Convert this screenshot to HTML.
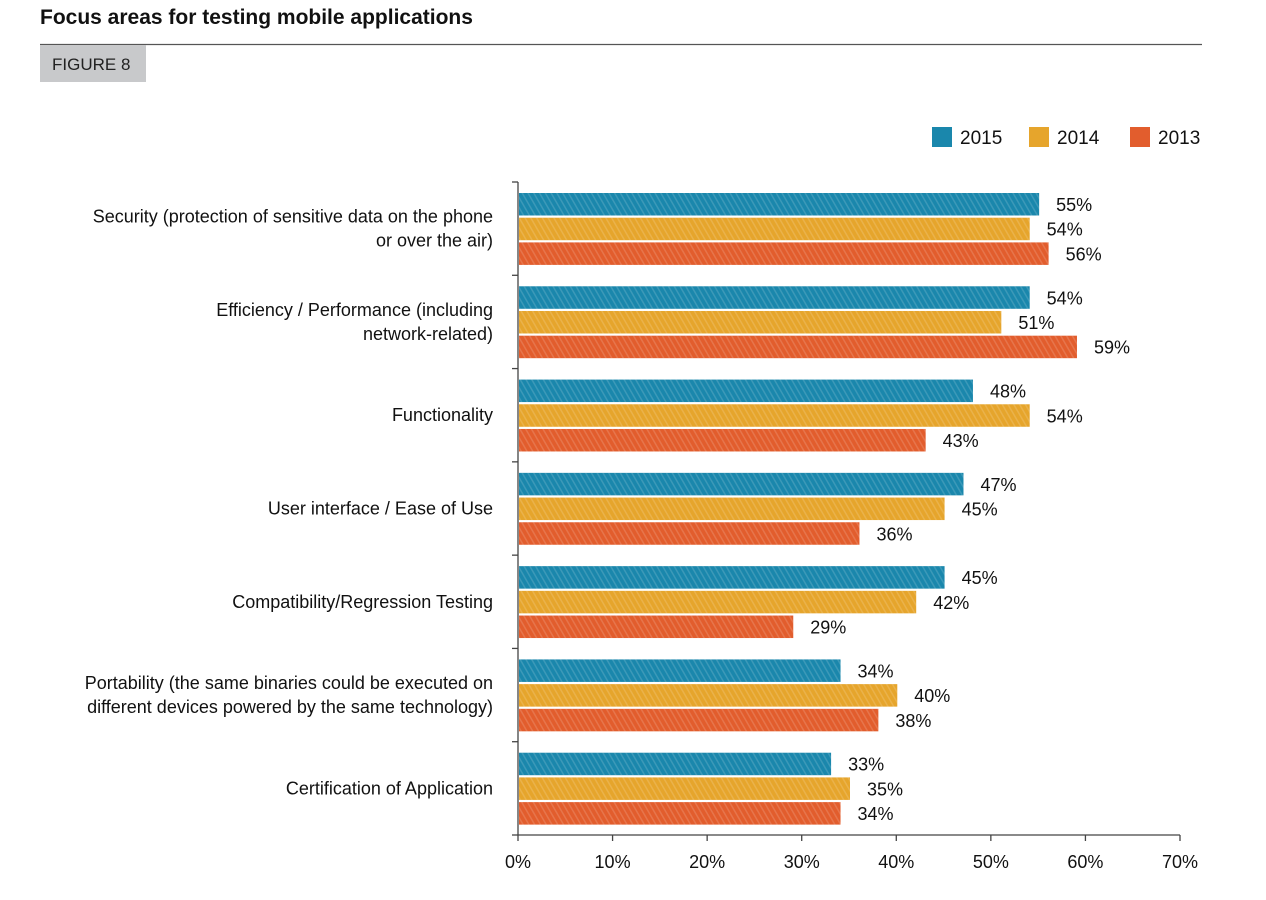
<!DOCTYPE html>
<html><head><meta charset="utf-8"><style>
html,body{margin:0;padding:0;background:#fff;}
svg{display:block;font-family:"Liberation Sans Narrow","Liberation Sans",sans-serif;}
</style></head><body>
<svg id="chart" width="1266" height="900" viewBox="0 0 1266 900">
<defs>
<pattern id="hatch" width="5" height="5" patternUnits="userSpaceOnUse" patternTransform="rotate(-30)">
<rect width="1.5" height="5" fill="rgba(255,255,255,0.15)"/>
</pattern>
</defs>
<text x="40" y="24" font-size="21" font-weight="bold" fill="#111">Focus areas for testing mobile applications</text>
<line x1="40" y1="44.5" x2="1202" y2="44.5" stroke="#555" stroke-width="1.2"/>
<rect x="40" y="45" width="106" height="37" fill="#c8c9cb"/>
<text x="52" y="70" font-size="17" fill="#222">FIGURE 8</text>
<g id="legend"></g>
<g id="axis"></g>
<g id="bars"></g>
</svg>
<script>
const categories = [
 ["Security (protection of sensitive data on the phone","or over the air)"],
 ["Efficiency / Performance (including","network-related)"],
 ["Functionality"],
 ["User interface / Ease of Use"],
 ["Compatibility/Regression Testing"],
 ["Portability (the same binaries could be executed on","different devices powered by the same technology)"],
 ["Certification of Application"]
];
const seriesNames = ["2015","2014","2013"];
const values2015 = [55,54,48,47,45,34,33];
const values2014 = [54,51,54,45,42,40,35];
const values2013 = [56,59,43,36,29,38,34];
const xTicks = [0,10,20,30,40,50,60,70];

const colors = ["#1a87ac","#e6a52c","#e25d2d"];
const series = [values2015, values2014, values2013];
const NS = "http://www.w3.org/2000/svg";
const x0 = 518, x1 = 1180, xMax = 70;
const yTop = 182, yBot = 835;
const groupH = (yBot - yTop) / categories.length;
const xScale = v => x0 + (v / xMax) * (x1 - x0);
function mk(tag, attrs, parent, text) {
  const e = document.createElementNS(NS, tag);
  for (const k in attrs) e.setAttribute(k, attrs[k]);
  if (text !== undefined) e.textContent = text;
  parent.appendChild(e);
  return e;
}
const axis = document.getElementById("axis");
const bars = document.getElementById("bars");
const legend = document.getElementById("legend");

let el = mk("line", {x1: x0, y1: yTop, x2: x0, y2: yBot, stroke: "#444", "stroke-width": 1.3}, axis);


el = mk("line", {x1: x0, y1: yBot, x2: x1, y2: yBot, stroke: "#444", "stroke-width": 1.3}, axis);



for (let i = 0; i <= categories.length; i++) {
  const y = yTop + i * groupH;
  el = mk("line", {x1: x0 - 6, y1: y, x2: x0, y2: y, stroke: "#444", "stroke-width": 1.3}, axis);
  
  
}
xTicks.forEach(t => {
  const x = xScale(t);
  el = mk("line", {x1: x, y1: yBot, x2: x, y2: yBot + 6, stroke: "#444", "stroke-width": 1.3}, axis);
  
  
  el = mk("text", {x: x, y: yBot + 33, "font-size": 18, "text-anchor": "middle", fill: "#111"}, axis, t + "%");
  
  
});

categories.forEach((lines, i) => {
  const gy = yTop + i * groupH;
  const cy = gy + groupH / 2;
  const n = lines.length;
  lines.forEach((ln, j) => {
    const ty = cy + 6 + (j - (n - 1) / 2) * 24;
    el = mk("text", {x: 493, y: ty, "font-size": 18, "text-anchor": "end", fill: "#111"}, axis, ln);
    
    
  });
  series.forEach((vals, s) => {
    const by = gy + 11 + s * 24.7;
    const bw = xScale(vals[i]) - x0;
    el = mk("rect", {x: x0 + 1, y: by, width: bw, height: 22.5, fill: colors[s]}, bars);
    
    
    el = mk("rect", {x: x0 + 1, y: by, width: bw, height: 22.5, fill: "url(#hatch)"}, bars);
    
    
    el = mk("text", {x: x0 + bw + 18, y: by + 18, "font-size": 18, fill: "#111"}, bars, vals[i] + "%");
    
    
  });
});

const legendX = [932, 1029, 1130];
seriesNames.forEach((nm, s) => {
  el = mk("rect", {x: legendX[s], y: 127, width: 20, height: 20, fill: colors[s]}, legend);
  
  
  el = mk("text", {x: legendX[s] + 28, y: 144, "font-size": 19, fill: "#111"}, legend, nm);
  
  
});
</script>
</body></html>
